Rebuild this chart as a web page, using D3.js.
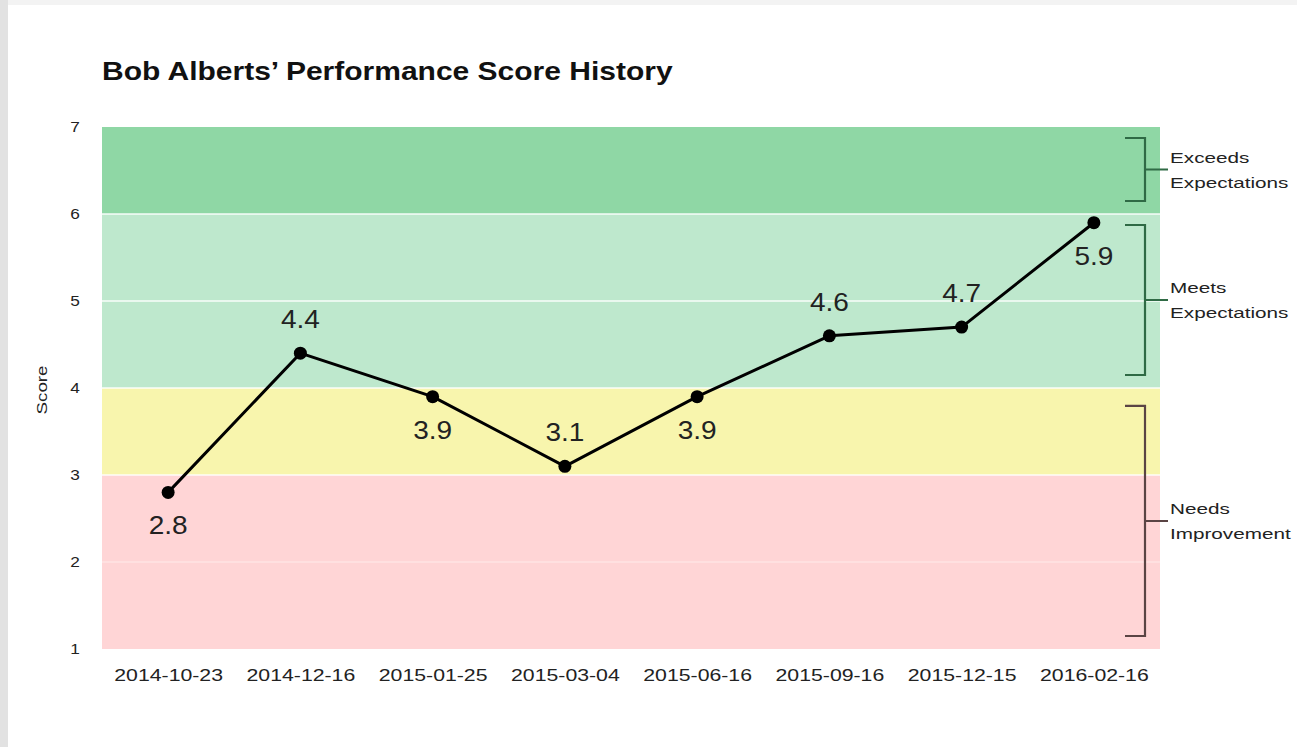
<!DOCTYPE html>
<html>
<head>
<meta charset="utf-8">
<script src="https://cdn.jsdelivr.net/npm/d3@7"></script>
<style>
  html, body { margin: 0; padding: 0; background: #ececec; }
  svg { display: block; }
</style>
</head>
<body>
<svg id="chart" width="1297" height="747"></svg>
<script>
const dates = ["2014-10-23","2014-12-16","2015-01-25","2015-03-04","2015-06-16","2015-09-16","2015-12-15","2016-02-16"];
const scores = [2.8, 4.4, 3.9, 3.1, 3.9, 4.6, 4.7, 5.9];
const labelSide = ["below","above","below","above","below","above","above","below"];
const yTicks = [1, 2, 3, 4, 5, 6, 7];
const bandLo = [1, 3, 4, 6];
const bandHi = [3, 4, 6, 7];
const bandColors = ["#ffd5d6", "#f8f5ad", "#bee8cd", "#8fd7a5"];
const bracketNames = [["Exceeds","Expectations"], ["Meets","Expectations"], ["Needs","Improvement"]];
const bracketLo = [6, 4, 1];
const bracketHi = [7, 6, 3.92];
const bracketColors = ["#2f6a45", "#2f6a45", "#5a4444"];

const FONT = "Liberation Sans, Arial, sans-serif";
const svg = d3.select("#chart");
const W = 1297, H = 747;
const m = {left: 102, right: 137, top: 127, bottom: 98};

// page + card
svg.append("rect").attr("x", 0).attr("y", 0).attr("width", W).attr("height", H).attr("fill", "#f3f3f3");
svg.append("rect").attr("x", 0).attr("y", 0).attr("width", 8).attr("height", H).attr("fill", "#e2e2e2");
svg.append("rect").attr("x", 8).attr("y", 5).attr("width", W - 8).attr("height", H - 5).attr("fill", "#ffffff");

const x = d3.scalePoint().domain(dates).range([m.left, W - m.right]).padding(0.5);
const y = d3.scaleLinear().domain([1, 7]).range([H - m.bottom, m.top]);

function stretchedText(parent, tx, ty, str, size, sx, opts = {}) {
  const gg = parent.append("g").attr("transform", `translate(${tx},${ty})${opts.rotate ? " rotate(" + opts.rotate + ")" : ""}`);
  return gg.append("text")
    .attr("transform", `scale(${sx},1)`)
    .attr("text-anchor", opts.anchor || "start")
    .attr("font-family", FONT).attr("font-size", size)
    .attr("font-weight", opts.weight || "normal")
    .attr("fill", opts.fill || "#222")
    .text(str);
}

const g = svg.append("g");

// bands
g.selectAll("rect.band").data(bandLo).join("rect")
  .attr("class", "band")
  .attr("x", m.left).attr("width", W - m.right - m.left)
  .attr("y", (d, i) => y(bandHi[i])).attr("height", (d, i) => y(bandLo[i]) - y(bandHi[i]))
  .attr("fill", (d, i) => bandColors[i]);

// white gridlines
g.selectAll("line.grid").data(yTicks.filter(t => t > 1 && t < 7)).join("line")
  .attr("class", "grid")
  .attr("x1", m.left).attr("x2", W - m.right)
  .attr("y1", d => y(d)).attr("y2", d => y(d))
  .attr("stroke", "#ffffff").attr("stroke-width", 1.5).attr("stroke-opacity", d => (d === 2 ? 0.35 : 0.9));

// y axis
const yAxis = d3.axisLeft(y).tickValues(yTicks).tickSize(0).tickPadding(0).tickFormat(d3.format("d"));
const ya = svg.append("g").attr("transform", `translate(${m.left - 27},0)`).call(yAxis);
ya.select(".domain").remove();
ya.selectAll("text").attr("font-family", FONT).attr("font-size", 15).attr("fill", "#222")
  .attr("text-anchor", "middle").attr("transform", "scale(1.15,1)");

stretchedText(svg, 47, (y(1) + y(7)) / 2 + 2, "Score", 15, 1.25, {anchor: "middle", rotate: -90});

// x axis
const xAxis = d3.axisBottom(x).tickSize(0).tickPadding(0);
const xa = svg.append("g").attr("transform", `translate(0,${y(1) + 20})`).call(xAxis);
xa.select(".domain").remove();
xa.selectAll("text").attr("font-family", FONT).attr("font-size", 17).attr("fill", "#222")
  .attr("transform", "scale(1.25,1)");

// title
stretchedText(svg, m.left, 80, "Bob Alberts\u2019 Performance Score History", 25, 1.2, {weight: "bold", fill: "#111"});

// line
const pts = dates.map((d, i) => ({d, v: scores[i], side: labelSide[i]}));
g.append("path").datum(pts)
  .attr("fill", "none").attr("stroke", "#000").attr("stroke-width", 3).attr("stroke-linejoin", "round")
  .attr("d", d3.line().x(p => x(p.d)).y(p => y(p.v)));
g.selectAll("circle.pt").data(pts).join("circle")
  .attr("class", "pt")
  .attr("cx", p => x(p.d)).attr("cy", p => y(p.v)).attr("r", 6.5).attr("fill", "#000");
pts.forEach(p => {
  const cy = y(p.v) + (p.side === "above" ? -34 : 33);
  stretchedText(g, x(p.d), cy + 9, p.v.toFixed(1), 25, 1.12, {anchor: "middle"});
});

// brackets
const bx = 1145, bArm = 20, bTick = 23;
bracketNames.forEach((names, i) => {
  const top = y(bracketHi[i]) + 11, bot = y(bracketLo[i]) - 13, mid = (top + bot) / 2;
  const c = bracketColors[i];
  svg.append("path")
    .attr("d", `M${bx - bArm},${top}H${bx}V${bot}H${bx - bArm}M${bx},${mid}H${bx + bTick}`)
    .attr("fill", "none").attr("stroke", c).attr("stroke-width", 2.2);
  names.forEach((t, j) => {
    stretchedText(svg, bx + 25, mid - 7 + j * 25, t, 15, 1.38);
  });
});
</script>
</body>
</html>
